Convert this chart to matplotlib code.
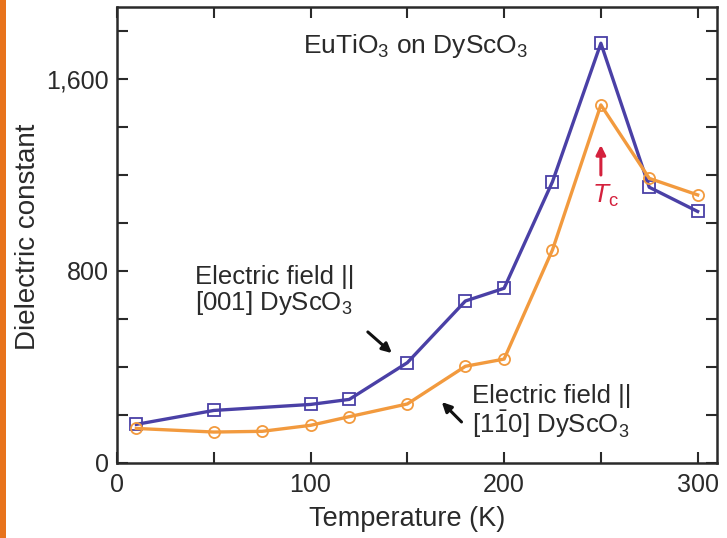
import matplotlib
matplotlib.use("Agg")
import matplotlib.pyplot as plt
from matplotlib.ticker import MultipleLocator, FuncFormatter
from matplotlib.patches import Rectangle

plt.rcParams['font.family'] = ['Liberation Sans', 'DejaVu Sans']
plt.rcParams['mathtext.fontset'] = 'custom'
plt.rcParams['mathtext.rm'] = 'Liberation Sans'
plt.rcParams['mathtext.it'] = 'Liberation Sans:italic'
plt.rcParams['mathtext.bf'] = 'Liberation Sans:bold'

# Data
temp_001 = [10, 50, 100, 120, 150, 180, 200, 225, 250, 275, 300]
eps_001 = [161, 219, 244, 265, 418, 675, 728, 1172, 1749, 1149, 1048]
temp_110 = [10, 50, 75, 100, 120, 150, 180, 200, 225, 250, 275, 300]
eps_110 = [144, 129, 132, 157, 193, 246, 403, 433, 888, 1492, 1186, 1117]
xticks = [0, 100, 200, 300]
yticks = [0, 800, 1600]

blue = '#4a40a6'
orange = '#f29a3e'
red = '#d4213d'
txt = '#2a2a2a'

fig = plt.figure(figsize=(7.27, 5.38), dpi=100)
fig.patches.append(Rectangle((0, 0), 6/727, 1, transform=fig.transFigure,
                             facecolor='#e8731c', edgecolor='none'))
ax = fig.add_axes([117/727, 1-463/538, (717-117)/727, (463-7)/538])

ax.plot(temp_001, eps_001, '-', color=blue, lw=2.4, marker='s', ms=8,
        mfc='none', mec=blue, mew=1.3, zorder=3)
ax.plot(temp_110, eps_110, '-', color=orange, lw=2.4, marker='o', ms=8,
        mfc='none', mec=orange, mew=1.3, zorder=3)

ax.set_xlim(0, 310)
ax.set_ylim(0, 1900)
ax.set_xticks(xticks)
ax.set_yticks(yticks)
ax.xaxis.set_minor_locator(MultipleLocator(50))
ax.yaxis.set_minor_locator(MultipleLocator(200))
ax.yaxis.set_major_formatter(FuncFormatter(lambda v, p: f"{int(v):,}"))
ax.tick_params(which='both', direction='in', top=True, right=True,
               length=8, width=1.5, color=txt, labelsize=18, labelcolor=txt)
ax.tick_params(axis='x', pad=7)
ax.tick_params(axis='y', pad=6)
for s in ax.spines.values():
    s.set_linewidth(1.8)
    s.set_color(txt)

ax.set_xlabel('Temperature (K)', fontsize=19.5, color=txt)
ax.xaxis.set_label_coords(0.483, -0.095)
ax.set_ylabel('Dielectric constant', fontsize=20, color=txt)
ax.yaxis.set_label_coords(-0.127, 0.496)

fs = 18.5
ax.text(96, 1708, r'EuTiO$_\mathregular{3}$ on DyScO$_\mathregular{3}$',
        fontsize=19, color=txt, ha='left', va='baseline')
ax.text(40.3, 637, 'Electric field ||\n[001] DyScO$_\\mathregular{3}$',
        fontsize=fs, color=txt, ha='left', va='baseline', linespacing=1.02)
ax.text(183.3, 125,
        'Electric field ||\n[1$\\mathregular{\\bar{1}}$0] DyScO$_\\mathregular{3}$',
        fontsize=fs, color=txt, ha='left', va='baseline', linespacing=1.02)

ax.annotate('', xy=(142, 458), xytext=(129.6, 546),
            arrowprops=dict(arrowstyle='-|>', color='#111111', lw=2.2,
                            mutation_scale=14, shrinkA=0, shrinkB=0))
ax.annotate('', xy=(167.8, 254), xytext=(178, 171),
            arrowprops=dict(arrowstyle='-|>', color='#111111', lw=2.2,
                            mutation_scale=14, shrinkA=0, shrinkB=0))
ax.annotate('', xy=(250, 1325), xytext=(250, 1200),
            arrowprops=dict(arrowstyle='-|>', color=red, lw=2.2,
                            mutation_scale=14, shrinkA=0, shrinkB=0))
ax.text(245.5, 1083, r'$T_\mathregular{c}$', fontsize=19, color=red,
        ha='left', va='baseline')

fig.savefig('out.png', dpi=100)
